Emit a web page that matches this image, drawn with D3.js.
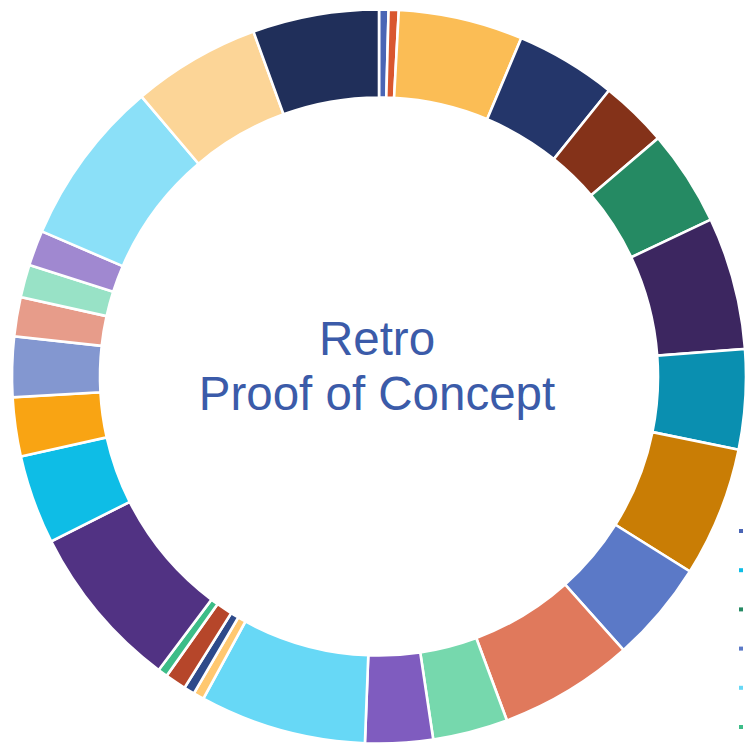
<!DOCTYPE html>
<html>
<head>
<meta charset="utf-8">
<script src="https://cdn.jsdelivr.net/npm/d3@7"></script>
<style>
  body { margin: 0; background: #fff; overflow: hidden; }
  svg { display: block; }
</style>
</head>
<body>
<svg id="chart" width="747" height="746"></svg>
<script>
// slices, clockwise from 12 o'clock
const categories = [
  "A1", "A2", "A3", "A4", "A5", "A6", "A7", "A8", "A9", "A10",
  "A11", "A12", "A13", "A14", "A15", "A16", "A17", "A18", "A19", "A20",
  "A21", "A22", "A23", "A24", "A25", "A26", "A27", "A28"
];
const values = [
  1.5, 1.6, 19.7, 16.0, 10.7, 15.2, 21.0, 15.8, 20.6, 16.1,
  21.4, 11.9, 10.7, 26.4, 1.7, 1.7, 3.35, 1.55, 26.4, 14.1,
  9.35, 9.55, 6.2, 5.2, 5.6, 26.4, 20.3, 20.0
];
const colors = [
  "#4a65b5", "#d9572f", "#fbbd55", "#24366a", "#843219", "#258a63", "#3c2660", "#0a8fb0", "#c97d05", "#5b79c7",
  "#e0795c", "#76d8ad", "#7f5cbf", "#67d8f6", "#ffc870", "#2e4a8a", "#b6462a", "#3dbd88", "#513283", "#0ebde6",
  "#f9a413", "#8397d0", "#e79c8a", "#98e2c6", "#a088d0", "#8be0f8", "#fcd597", "#202f5a"
];
// the only part of the legend that falls inside the window: its swatches
const legendKeys = ["A1", "A20", "A6", "A10", "A14", "A18"];
const titleLines = ["Retro", "Proof of Concept"];

const svg = d3.select("#chart");
const cx = 379, cy = 376.5;
const outerR = 367, innerR = 279;

const color = d3.scaleOrdinal().domain(categories).range(colors);
const data = categories.map((c, i) => ({ name: c, value: values[i] }));

const pie = d3.pie().value(d => d.value).sort(null);
const arc = d3.arc().innerRadius(innerR).outerRadius(outerR);

const g = svg.append("g").attr("transform", `translate(${cx},${cy})`);

g.selectAll("path")
  .data(pie(data))
  .join("path")
  .attr("d", arc)
  .attr("fill", d => color(d.data.name))
  .attr("stroke", "#fff")
  .attr("stroke-width", 2.6);

// center title
g.append("text")
  .attr("text-anchor", "middle")
  .attr("font-family", "Liberation Sans, Arial, sans-serif")
  .attr("font-size", 47.5)
  .attr("fill", "#3b5ba9")
  .selectAll("tspan")
  .data(titleLines)
  .join("tspan")
  .attr("x", -2)
  .attr("y", (d, i) => -21.5 + i * 55)
  .text(d => d);

// legend swatches at the right edge
svg.append("g")
  .attr("transform", "translate(739,529)")
  .selectAll("rect")
  .data(legendKeys)
  .join("rect")
  .attr("y", (d, i) => i * 39.2)
  .attr("width", 4)
  .attr("height", 4)
  .attr("fill", d => color(d));
</script>
</body>
</html>
